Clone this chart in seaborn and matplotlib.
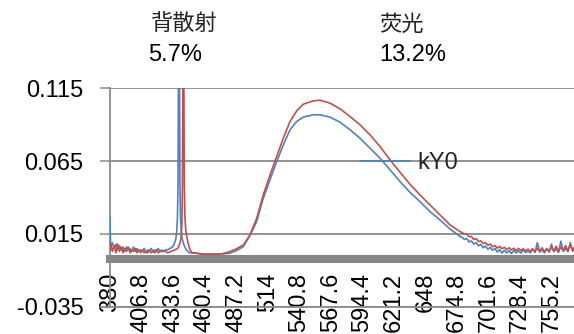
import numpy as np
import pandas as pd
import matplotlib
matplotlib.use("Agg")
import matplotlib.pyplot as plt
from matplotlib.lines import Line2D
import seaborn as sns

# ---------------- data ----------------
head_nm = [380.0, 380.5, 382, 383.5, 385, 386.5, 388, 389.5, 391, 392.5, 394, 395.5,
           397, 398.5, 400, 401.5, 403, 404.5, 406, 407.5, 409, 410.5, 412, 413.5,
           415, 416.5, 418, 419.5, 421, 422.5, 424, 425.5, 427]
head_blue = [0.027, 0.006, 0.009, 0.005, 0.008, 0.004, 0.007, 0.004, 0.006, 0.003, 0.006, 0.004,
             0.005, 0.003, 0.006, 0.003, 0.005, 0.003, 0.004, 0.003, 0.005, 0.002, 0.004, 0.003,
             0.005, 0.003, 0.004, 0.003, 0.005, 0.003, 0.004, 0.003, 0.004]
head_red = [0.004, 0.008, 0.003, 0.007, 0.002, 0.008, 0.003, 0.006, 0.002, 0.005, 0.003, 0.006,
            0.002, 0.004, 0.003, 0.005, 0.002, 0.004, 0.002, 0.004, 0.002, 0.003, 0.002, 0.004,
            0.002, 0.003, 0.002, 0.004, 0.002, 0.003, 0.003, 0.003, 0.003]

peak_blue_nm = [429, 431, 433, 434.5, 435.8, 436.6, 437.3, 437.8, 438.2, 438.6, 439.0, 439.4,
                439.9, 440.6, 441.5, 443, 445, 447.5]
peak_blue = [0.004, 0.005, 0.006, 0.008, 0.011, 0.016, 0.026, 0.05, 0.13, 0.9, 0.13, 0.05,
             0.026, 0.016, 0.011, 0.007, 0.004, 0.002]
peak_red_nm = [429, 432, 435, 437.5, 439.2, 440.3, 441.0, 441.5, 441.9, 442.3, 442.7, 443.1,
               443.6, 444.3, 445.2, 446.5, 448, 450]
peak_red = [0.002, 0.003, 0.004, 0.005, 0.008, 0.012, 0.02, 0.045, 0.13, 0.9, 0.13, 0.05,
            0.028, 0.018, 0.013, 0.008, 0.004, 0.002]

mid_nm = [452, 456, 460, 465, 470, 476, 481.9, 487.5, 493.3, 498.9, 504.6, 510.2, 515.9,
          521.6, 527.2, 532.9, 538.6, 544.2, 552.7, 558.4, 566.9, 575.4, 583.9, 592.4,
          600.9, 609.4, 617.9, 626.3, 634.8, 643.3, 651.8, 660.3, 668.8, 677.3]
mid_blue = [0.002, 0.0015, 0.0012, 0.0012, 0.0012, 0.0013, 0.0017, 0.0035, 0.0063, 0.0139,
            0.0235, 0.0395, 0.0521, 0.0647, 0.0761, 0.0865, 0.0922, 0.0952, 0.0968, 0.0968,
            0.0952, 0.0917, 0.0865, 0.0807, 0.0739, 0.0670, 0.0590, 0.0510, 0.0436, 0.0372,
            0.0303, 0.0246, 0.0184, 0.0132]
mid_red = [0.0018, 0.0013, 0.001, 0.001, 0.001, 0.0015, 0.0029, 0.0048, 0.0074, 0.0143,
           0.0258, 0.0418, 0.0555, 0.0681, 0.0807, 0.0922, 0.0995, 0.1041, 0.1064, 0.1068,
           0.1048, 0.1009, 0.0956, 0.0899, 0.0830, 0.0750, 0.0658, 0.0574, 0.0491, 0.0418,
           0.0349, 0.0281, 0.0212, 0.0166]

tail_nm = [679, 681, 683, 685, 687, 689, 691, 693, 695, 697, 699, 701, 703, 705, 707, 709,
           711, 713, 715, 717, 719, 721, 723, 725, 727, 729, 731, 733, 735, 737, 739, 741,
           743, 745, 747, 749, 751, 753, 755, 757, 759, 761, 763, 765, 767, 769, 771, 773,
           775, 777]
tail_blue = [0.0128, 0.0112, 0.0118, 0.0095, 0.0102, 0.0080, 0.0090, 0.0068, 0.0078, 0.0055,
             0.0066, 0.0045, 0.0058, 0.0038, 0.0050, 0.0025, 0.0042, 0.0018, 0.0038, 0.0020,
             0.0035, 0.0015, 0.0036, 0.0020, 0.0034, 0.0018, 0.0040, 0.0022, 0.0032, 0.0020,
             0.0045, 0.0022, 0.0090, 0.0025, 0.0040, 0.0020, 0.0045, 0.0025, 0.0080, 0.0028,
             0.0045, 0.0022, 0.0100, 0.0030, 0.0050, 0.0028, 0.0090, 0.0030, 0.0060, 0.0035]
tail_red = [0.0160, 0.0148, 0.0150, 0.0130, 0.0132, 0.0112, 0.0118, 0.0098, 0.0102, 0.0085,
            0.0090, 0.0072, 0.0080, 0.0062, 0.0070, 0.0052, 0.0064, 0.0048, 0.0058, 0.0042,
            0.0055, 0.0040, 0.0052, 0.0035, 0.0050, 0.0036, 0.0048, 0.0032, 0.0046, 0.0030,
            0.0048, 0.0028, 0.0052, 0.0030, 0.0055, 0.0028, 0.0050, 0.0030, 0.0058, 0.0032,
            0.0065, 0.0030, 0.0060, 0.0035, 0.0070, 0.0032, 0.0075, 0.0038, 0.0068, 0.0040]

x_ticks = [380, 406.8, 433.6, 460.4, 487.2, 514, 540.8, 567.6, 594.4, 621.2, 648,
           674.8, 701.6, 728.4, 755.2]
x_tick_labels = ["380", "406.8", "433.6", "460.4", "487.2", "514", "540.8", "567.6",
                 "594.4", "621.2", "648", "674.8", "701.6", "728.4", "755.2"]
y_ticks = [-0.035, 0.015, 0.065, 0.115]
y_tick_labels = ["-0.035", "0.015", "0.065", "0.115"]
series_name = "kY0"
annot_labels = ["背散射", "荧光"]
annot_values = ["5.7%", "13.2%"]

# ---------------- build tables ----------------
blue_df = pd.DataFrame({"nm": head_nm + peak_blue_nm + mid_nm + tail_nm,
                        "v": head_blue + peak_blue + mid_blue + tail_blue})
red_df = pd.DataFrame({"nm": head_nm + peak_red_nm + mid_nm + tail_nm,
                       "v": head_red + peak_red + mid_red + tail_red})

sns.set_theme(style="white")
plt.rcParams["font.family"] = ["Liberation Sans", "Noto Sans CJK SC", "DejaVu Sans"]

W, H = 574, 334
fig = plt.figure(figsize=(W / 100, H / 100), dpi=100)
fig.patch.set_facecolor("white")
left_px, bottom_px, top_px = 110, 306.7, 88.3
right_px = 110 + 400 * 1.1772
ax = fig.add_axes([left_px / W, (H - bottom_px) / H,
                   (right_px - left_px) / W, (bottom_px - top_px) / H])
ax.set_facecolor("white")

BLUE = "#4F81BD"
RED = "#C0504D"
GRID = "#8A8A8A"

sns.lineplot(data=blue_df, x="nm", y="v", ax=ax, color=BLUE, linewidth=1.2,
             estimator=None, sort=False, label=series_name, zorder=3)
sns.lineplot(data=red_df, x="nm", y="v", ax=ax, color=RED, linewidth=1.2,
             estimator=None, sort=False, label="_nolegend_", zorder=4)

ax.set_xlim(380, 780)
ax.set_ylim(-0.035, 0.115)
ax.set_xlabel("")
ax.set_ylabel("")

# spines first (set_position resets the tick objects)
for s in ["top", "right"]:
    ax.spines[s].set_visible(False)
ax.spines["left"].set_color(GRID)
ax.spines["left"].set_linewidth(1.3)
ax.spines["bottom"].set_position(("data", -0.0025))
ax.spines["bottom"].set_color("#858585")
ax.spines["bottom"].set_linewidth(5.8)
ax.spines["bottom"].set_zorder(2)

ax.set_yticks(y_ticks)
ax.set_yticklabels(y_tick_labels)
ax.set_xticks(x_ticks)
ax.set_xticklabels(x_tick_labels)

ax.yaxis.grid(True, color=GRID, linewidth=1.3)
ax.xaxis.grid(False)
ax.tick_params(axis="y", which="both", left=True, length=7.2, width=1.1, color=GRID,
               pad=12, labelsize=17, labelcolor="black")
ax.tick_params(axis="x", which="both", bottom=True, length=0, pad=9.5,
               labelsize=17, labelcolor="black", labelrotation=90)

# bottom gridline (at the lower y limit), drawn at figure level so it is always visible
fig.canvas.draw()
y_fig = ax.transData.transform((380, y_ticks[0]))[1] / fig.bbox.height
fig.add_artist(Line2D([(left_px - 10) / W, 1.0], [y_fig, y_fig],
                      transform=fig.transFigure, color=GRID, linewidth=1.3, zorder=10))

# legend (only the blue series)
handles, labels = ax.get_legend_handles_labels()
ax.legend(handles=handles[:1], labels=[series_name], loc="center left",
          bbox_to_anchor=(360 / W, 1 - 163 / H), bbox_transform=fig.transFigure,
          frameon=False, fontsize=17, handlelength=2.1, handletextpad=0.34,
          borderpad=0, borderaxespad=0)

# annotations at top
fig.text(151 / W, 1 - 24 / H, annot_labels[0], family=["Noto Sans CJK SC"],
         fontsize=16, ha="left", va="center", color="#222222")
fig.text(148 / W, 1 - 55 / H, annot_values[0], fontsize=17, ha="left", va="center",
         color="black")
fig.text(379 / W, 1 - 24 / H, annot_labels[1], family=["Noto Sans CJK SC"],
         fontsize=16, ha="left", va="center", color="#222222")
fig.text(379 / W, 1 - 55 / H, annot_values[1], fontsize=17, ha="left", va="center",
         color="black")

fig.savefig("out.png", dpi=100, facecolor="white")
